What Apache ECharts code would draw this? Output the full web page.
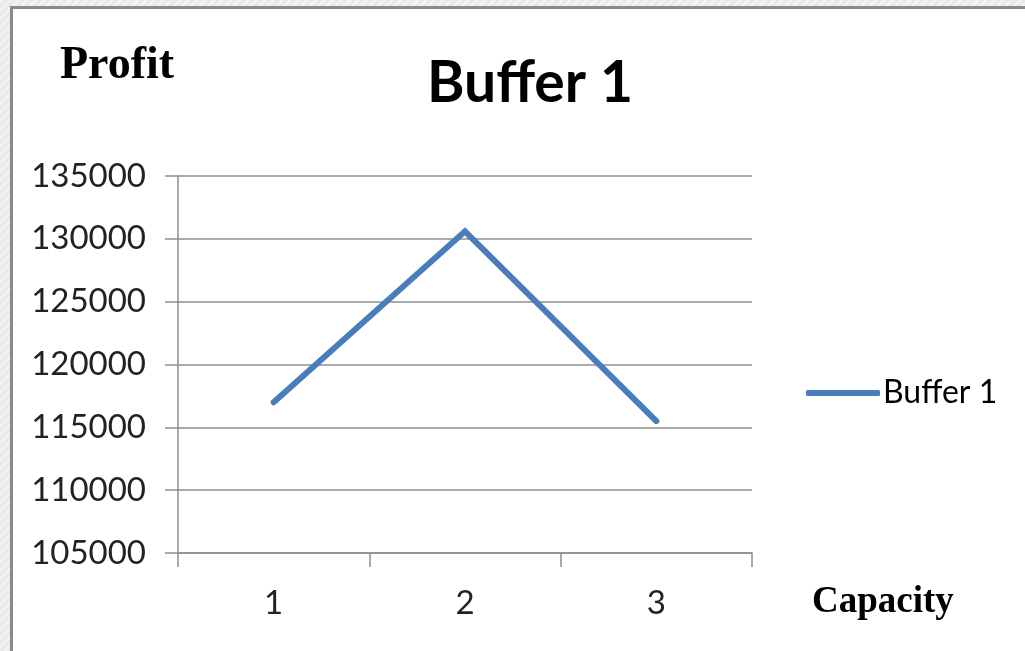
<!DOCTYPE html>
<html>
<head>
<meta charset="utf-8">
<script src="https://cdn.jsdelivr.net/npm/echarts@6/dist/echarts.min.js"></script>
<style>
  html, body { margin: 0; padding: 0; width: 1025px; height: 651px; overflow: hidden;
    background: repeating-linear-gradient(135deg, #f2f2f2 0 3px, #e9e9e9 3px 6px); }
  #frame { position: absolute; left: 10px; top: 6px; width: 1030px; height: 660px;
    border-left: 3px solid #8a8a8a; border-top: 3px solid #8a8a8a; background: #fff; }
  #chart { position: absolute; left: 0; top: 0; width: 1025px; height: 651px; }
</style>
</head>
<body>
<div id="frame"></div>
<div id="chart"></div>
<script>
// Capacity levels on the x axis and the resulting profit
const capacities = ['1', '2', '3'];
const profit = [117000, 130600, 115500];
const seriesName = 'Buffer 1';
const yMin = 105000, yMax = 135000, yStep = 5000;

const calibriLike = 'Lato, "Open Sans", sans-serif';
const gridColor = '#8f8f8f';

const chart = echarts.init(document.getElementById('chart'), null, { renderer: 'canvas' });
chart.setOption({
  backgroundColor: 'transparent',
  animation: false,
  title: [
    { text: 'Buffer 1', left: 525, top: 50, textAlign: 'center',
      textStyle: { fontFamily: calibriLike, fontWeight: 'bold', fontSize: 57, color: '#000' } },
    { text: 'Profit', left: 55, top: 38,
      textStyle: { fontFamily: '"Liberation Serif", "Times New Roman", serif', fontWeight: 'bold', fontSize: 46, color: '#000' } },
    { text: 'Capacity', left: 807, top: 579,
      textStyle: { fontFamily: '"Liberation Serif", "Times New Roman", serif', fontWeight: 'bold', fontSize: 37, color: '#000' } }
  ],
  legend: {
    data: [seriesName], left: 806, top: 377, padding: 0, icon: 'roundRect',
    itemWidth: 74, itemHeight: 6, itemGap: 0,
    textStyle: { fontFamily: calibriLike, fontSize: 32, color: '#000', padding: [0, 0, 0, -2] }
  },
  grid: { left: 178, top: 176, right: 273, bottom: 98, containLabel: false },
  xAxis: {
    type: 'category', data: capacities, boundaryGap: true,
    axisLine: { lineStyle: { color: gridColor, width: 1.5 } },
    axisTick: { show: true, length: 14, alignWithLabel: false, lineStyle: { color: gridColor, width: 1.5 } },
    axisLabel: { margin: 34, fontFamily: calibriLike, fontSize: 33, color: '#222' },
    splitLine: { show: false }
  },
  yAxis: {
    type: 'value', min: yMin, max: yMax, interval: yStep,
    axisLine: { show: true, lineStyle: { color: gridColor, width: 1.5 } },
    axisTick: { show: true, length: 13, lineStyle: { color: gridColor, width: 1.5 } },
    axisLabel: { margin: 32, fontFamily: calibriLike, fontSize: 33, color: '#222',
      formatter: v => String(v) },
    splitLine: { show: true, lineStyle: { color: gridColor, width: 1.5 } }
  },
  series: [{
    name: seriesName, type: 'line', data: profit,
    showSymbol: false, symbol: 'none',
    lineStyle: { color: '#4a7ebb', width: 6, cap: 'round', join: 'miter' },
    itemStyle: { color: '#4a7ebb' }
  }]
});
</script>
</body>
</html>
